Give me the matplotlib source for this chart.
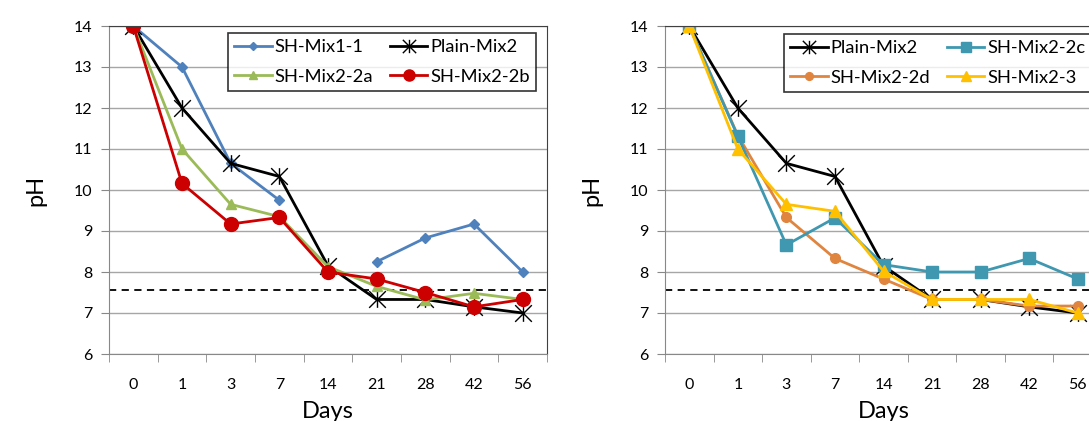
import numpy as np
import matplotlib.pyplot as plt
from matplotlib.path import Path

plt.rcParams['font.family'] = ['Lato', 'DejaVu Sans']

# Data
days = ["0", "1", "3", "7", "14", "21", "28", "42", "56"]
plain_mix2 = [14, 12.0, 10.65, 10.33, 8.15, 7.33, 7.33, 7.15, 7.0]
sh_mix1_1 = [14, 13.0, 10.65, 9.75, np.nan, 8.25, 8.83, 9.17, 8.0]
sh_mix2_2a = [14, 11.0, 9.65, 9.35, 8.13, 7.65, 7.32, 7.48, 7.33]
sh_mix2_2b = [14, 10.16, 9.17, 9.33, 8.0, 7.83, 7.5, 7.15, 7.33]
sh_mix2_2c = [14, 11.31, 8.66, 9.32, 8.18, 8.0, 8.0, 8.33, 7.83]
sh_mix2_2d = [14, 11.33, 9.33, 8.33, 7.83, 7.33, 7.33, 7.17, 7.17]
sh_mix2_3 = [14, 11.0, 9.65, 9.48, 8.02, 7.33, 7.33, 7.33, 7.0]
threshold = 7.55

W, H = 1089, 421
fig = plt.figure(figsize=(W / 100, H / 100), dpi=100)

# Excel-style star: an X with a vertical stroke
star = Path([(0, -1), (0, 1), (-1, -1), (1, 1), (-1, 1), (1, -1)],
            [Path.MOVETO, Path.LINETO] * 3)


def setup(ax, right_border=True):
    ax.set_xlim(-0.5, 8.5)
    ax.set_ylim(6, 14)
    ax.set_yticks(range(6, 15))
    ax.set_xticks(range(9))
    ax.set_xticklabels(days)
    ax.set_xticks(np.arange(-0.5, 9.0, 1), minor=True)
    ax.tick_params(axis='x', which='major', length=0, pad=17, labelsize=11.5)
    ax.tick_params(axis='x', which='minor', length=6, color='#888888', direction='out')
    ax.tick_params(axis='y', length=6, color='#888888', pad=6, labelsize=11.5)
    ax.grid(axis='y', color='#a6a6a6', lw=1)
    ax.set_axisbelow(True)
    for s in ['left', 'bottom']:
        ax.spines[s].set_color('#888888')
    for s in ['top', 'right']:
        ax.spines[s].set_color('#404040')
    ax.spines['right'].set_visible(right_border)
    ax.set_ylabel('pH', fontsize=17, labelpad=20)
    ax.set_xlabel('Days', fontsize=17, labelpad=7)
    ax.axhline(threshold, color='black', ls=(0, (4, 3)), lw=1.3, zorder=1)


def add_legend(ax, order, corner):
    h, l = ax.get_legend_handles_labels()
    h = [h[i] for i in order]
    l = [l[i] for i in order]
    leg = ax.legend(h, l, ncol=2, loc='upper left', bbox_to_anchor=corner,
                    bbox_transform=fig.transFigure, fontsize=13.2,
                    frameon=True, fancybox=False, edgecolor='black', handlelength=2.05,
                    columnspacing=0.9, handletextpad=0.15, borderpad=0.35,
                    labelspacing=0.72, markerscale=0.8, borderaxespad=0)
    leg.get_frame().set_linewidth(1.2)


x = np.arange(len(days))

ax1 = fig.add_axes([109 / W, 1 - 354 / H, 438 / W, 328 / H])
setup(ax1)
ax1.plot(x, sh_mix1_1, color='#4f81bd', lw=2, marker='D', ms=5, label='SH-Mix1-1')
ax1.plot(x, plain_mix2, color='black', lw=2, marker=star, ms=12, mew=1, label='Plain-Mix2')
ax1.plot(x, sh_mix2_2a, color='#9bbb59', lw=2, marker='^', ms=7, label='SH-Mix2-2a')
ax1.plot(x, sh_mix2_2b, color='#cc0000', lw=2, marker='o', ms=10, label='SH-Mix2-2b')
add_legend(ax1, [0, 2, 1, 3], (228 / W, 1 - 33 / H))

ax2 = fig.add_axes([665 / W, 1 - 354 / H, 437 / W, 328 / H])
setup(ax2, right_border=False)
ax2.plot(x, plain_mix2, color='black', lw=2, marker=star, ms=12, mew=1, label='Plain-Mix2')
ax2.plot(x, sh_mix2_2d, color='#e0853f', lw=2, marker='o', ms=7, label='SH-Mix2-2d')
ax2.plot(x, sh_mix2_2c, color='#3f98b0', lw=2, marker='s', ms=9, label='SH-Mix2-2c')
ax2.plot(x, sh_mix2_3, color='#ffc000', lw=2, marker='^', ms=9, label='SH-Mix2-3')
add_legend(ax2, [0, 1, 2, 3], (784 / W, 1 - 34 / H))

fig.savefig('out.png', dpi=100)
